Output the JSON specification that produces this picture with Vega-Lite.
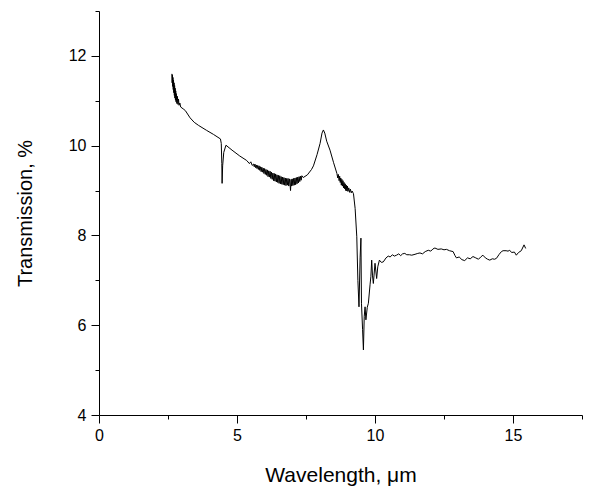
{
  "$schema": "https://vega.github.io/schema/vega-lite/v6.json",
  "autosize": {"type": "none"},
  "padding": {"left": 99, "top": 11, "right": 22, "bottom": 76},
  "width": 483,
  "height": 404,
  "background": "white",
  "config": {"view": {"stroke": null}, "font": "Liberation Sans"},
  "data": {"values": [
    {"w": 2.64, "t": 11.60}, {"w": 2.65, "t": 11.40}, {"w": 2.66, "t": 11.58}, {"w": 2.67, "t": 11.32},
    {"w": 2.68, "t": 11.52}, {"w": 2.69, "t": 11.25}, {"w": 2.70, "t": 11.46}, {"w": 2.71, "t": 11.18},
    {"w": 2.72, "t": 11.40}, {"w": 2.73, "t": 11.12}, {"w": 2.74, "t": 11.34}, {"w": 2.75, "t": 11.06},
    {"w": 2.76, "t": 11.28}, {"w": 2.77, "t": 11.02}, {"w": 2.78, "t": 11.22}, {"w": 2.79, "t": 10.98},
    {"w": 2.80, "t": 11.16}, {"w": 2.82, "t": 10.94}, {"w": 2.84, "t": 11.10}, {"w": 2.86, "t": 10.92},
    {"w": 2.88, "t": 11.04}, {"w": 2.90, "t": 10.90}, {"w": 2.93, "t": 10.95}, {"w": 2.96, "t": 10.86},
    {"w": 3.05, "t": 10.82}, {"w": 3.13, "t": 10.78}, {"w": 3.30, "t": 10.62}, {"w": 3.45, "t": 10.52},
    {"w": 3.61, "t": 10.45}, {"w": 3.90, "t": 10.34}, {"w": 4.15, "t": 10.25}, {"w": 4.40, "t": 10.15},
    {"w": 4.43, "t": 10.05}, {"w": 4.45, "t": 9.60}, {"w": 4.46, "t": 9.16}, {"w": 4.48, "t": 9.55},
    {"w": 4.52, "t": 9.85}, {"w": 4.60, "t": 10.01}, {"w": 4.82, "t": 9.90}, {"w": 5.10, "t": 9.77},
    {"w": 5.35, "t": 9.67}, {"w": 5.45, "t": 9.60}, {"w": 5.50, "t": 9.64}, {"w": 5.55, "t": 9.56},
    {"w": 5.60, "t": 9.59}, {"w": 5.625, "t": 9.53}, {"w": 5.65, "t": 9.59}, {"w": 5.675, "t": 9.51},
    {"w": 5.70, "t": 9.57}, {"w": 5.725, "t": 9.49}, {"w": 5.75, "t": 9.56}, {"w": 5.775, "t": 9.47},
    {"w": 5.80, "t": 9.55}, {"w": 5.825, "t": 9.45}, {"w": 5.85, "t": 9.53}, {"w": 5.875, "t": 9.42},
    {"w": 5.90, "t": 9.52}, {"w": 5.925, "t": 9.41}, {"w": 5.95, "t": 9.50}, {"w": 5.975, "t": 9.38},
    {"w": 6.00, "t": 9.49}, {"w": 6.025, "t": 9.36}, {"w": 6.05, "t": 9.47}, {"w": 6.075, "t": 9.34},
    {"w": 6.10, "t": 9.46}, {"w": 6.125, "t": 9.31}, {"w": 6.15, "t": 9.44}, {"w": 6.175, "t": 9.30},
    {"w": 6.20, "t": 9.43}, {"w": 6.225, "t": 9.27}, {"w": 6.25, "t": 9.41}, {"w": 6.275, "t": 9.25},
    {"w": 6.30, "t": 9.39}, {"w": 6.325, "t": 9.22}, {"w": 6.35, "t": 9.38}, {"w": 6.375, "t": 9.21},
    {"w": 6.40, "t": 9.37}, {"w": 6.425, "t": 9.19}, {"w": 6.45, "t": 9.35}, {"w": 6.475, "t": 9.18},
    {"w": 6.50, "t": 9.34}, {"w": 6.525, "t": 9.16}, {"w": 6.55, "t": 9.33}, {"w": 6.575, "t": 9.15},
    {"w": 6.60, "t": 9.31}, {"w": 6.625, "t": 9.14}, {"w": 6.65, "t": 9.30}, {"w": 6.675, "t": 9.13},
    {"w": 6.70, "t": 9.29}, {"w": 6.725, "t": 9.12}, {"w": 6.75, "t": 9.28}, {"w": 6.775, "t": 9.11},
    {"w": 6.80, "t": 9.27}, {"w": 6.825, "t": 9.12}, {"w": 6.85, "t": 9.27}, {"w": 6.875, "t": 9.10},
    {"w": 6.90, "t": 9.26}, {"w": 6.925, "t": 9.12}, {"w": 6.94, "t": 9.00}, {"w": 6.96, "t": 9.25},
    {"w": 6.975, "t": 9.10}, {"w": 7.00, "t": 9.26}, {"w": 7.025, "t": 9.11}, {"w": 7.05, "t": 9.27},
    {"w": 7.075, "t": 9.12}, {"w": 7.10, "t": 9.28}, {"w": 7.125, "t": 9.13}, {"w": 7.15, "t": 9.29},
    {"w": 7.175, "t": 9.15}, {"w": 7.20, "t": 9.30}, {"w": 7.225, "t": 9.17}, {"w": 7.25, "t": 9.31},
    {"w": 7.275, "t": 9.20}, {"w": 7.30, "t": 9.32}, {"w": 7.325, "t": 9.23}, {"w": 7.35, "t": 9.33},
    {"w": 7.40, "t": 9.29}, {"w": 7.55, "t": 9.35}, {"w": 7.70, "t": 9.47}, {"w": 7.77, "t": 9.55},
    {"w": 7.90, "t": 9.80}, {"w": 8.01, "t": 10.05}, {"w": 8.08, "t": 10.28}, {"w": 8.13, "t": 10.35},
    {"w": 8.18, "t": 10.28}, {"w": 8.25, "t": 10.10}, {"w": 8.37, "t": 9.90}, {"w": 8.50, "t": 9.62},
    {"w": 8.62, "t": 9.38}, {"w": 8.65, "t": 9.28}, {"w": 8.67, "t": 9.36}, {"w": 8.70, "t": 9.22},
    {"w": 8.72, "t": 9.32}, {"w": 8.74, "t": 9.18}, {"w": 8.76, "t": 9.28}, {"w": 8.78, "t": 9.12},
    {"w": 8.80, "t": 9.25}, {"w": 8.82, "t": 9.10}, {"w": 8.84, "t": 9.22}, {"w": 8.86, "t": 9.06},
    {"w": 8.88, "t": 9.18}, {"w": 8.90, "t": 9.04}, {"w": 8.92, "t": 9.15}, {"w": 8.94, "t": 9.00},
    {"w": 8.96, "t": 9.12}, {"w": 8.98, "t": 8.99}, {"w": 9.00, "t": 9.10}, {"w": 9.02, "t": 8.98},
    {"w": 9.05, "t": 9.06}, {"w": 9.08, "t": 8.96}, {"w": 9.11, "t": 9.03}, {"w": 9.14, "t": 8.95},
    {"w": 9.17, "t": 8.99}, {"w": 9.22, "t": 8.93},
    {"w": 9.28, "t": 8.60}, {"w": 9.34, "t": 7.97}, {"w": 9.38, "t": 7.00}, {"w": 9.42, "t": 6.41},
    {"w": 9.46, "t": 7.50}, {"w": 9.49, "t": 7.94}, {"w": 9.51, "t": 6.49}, {"w": 9.55, "t": 5.90},
    {"w": 9.58, "t": 5.45}, {"w": 9.61, "t": 6.20}, {"w": 9.64, "t": 6.41}, {"w": 9.67, "t": 6.12},
    {"w": 9.72, "t": 6.40}, {"w": 9.76, "t": 6.49}, {"w": 9.82, "t": 6.90}, {"w": 9.85, "t": 7.08},
    {"w": 9.88, "t": 7.45}, {"w": 9.91, "t": 7.10}, {"w": 9.94, "t": 6.93}, {"w": 10.00, "t": 7.38},
    {"w": 10.06, "t": 7.04}, {"w": 10.10, "t": 7.30}, {"w": 10.16, "t": 7.45}, {"w": 10.23, "t": 7.40},
    {"w": 10.30, "t": 7.41}, {"w": 10.40, "t": 7.50}, {"w": 10.48, "t": 7.54}, {"w": 10.55, "t": 7.52},
    {"w": 10.63, "t": 7.57}, {"w": 10.70, "t": 7.54}, {"w": 10.78, "t": 7.56}, {"w": 10.86, "t": 7.59},
    {"w": 10.93, "t": 7.55}, {"w": 11.00, "t": 7.59}, {"w": 11.08, "t": 7.60}, {"w": 11.15, "t": 7.57},
    {"w": 11.25, "t": 7.57}, {"w": 11.33, "t": 7.56}, {"w": 11.45, "t": 7.58}, {"w": 11.55, "t": 7.60},
    {"w": 11.63, "t": 7.61}, {"w": 11.72, "t": 7.59}, {"w": 11.82, "t": 7.64}, {"w": 11.93, "t": 7.67},
    {"w": 12.02, "t": 7.65}, {"w": 12.10, "t": 7.70}, {"w": 12.17, "t": 7.72}, {"w": 12.28, "t": 7.69},
    {"w": 12.40, "t": 7.70}, {"w": 12.50, "t": 7.68}, {"w": 12.59, "t": 7.69}, {"w": 12.70, "t": 7.66},
    {"w": 12.83, "t": 7.64}, {"w": 12.90, "t": 7.55}, {"w": 12.95, "t": 7.50}, {"w": 13.05, "t": 7.52},
    {"w": 13.15, "t": 7.46}, {"w": 13.25, "t": 7.44}, {"w": 13.35, "t": 7.50}, {"w": 13.45, "t": 7.48},
    {"w": 13.55, "t": 7.53}, {"w": 13.65, "t": 7.50}, {"w": 13.75, "t": 7.47}, {"w": 13.83, "t": 7.52},
    {"w": 13.91, "t": 7.56}, {"w": 14.00, "t": 7.50}, {"w": 14.08, "t": 7.47}, {"w": 14.16, "t": 7.45},
    {"w": 14.25, "t": 7.48}, {"w": 14.33, "t": 7.47}, {"w": 14.40, "t": 7.49}, {"w": 14.50, "t": 7.58},
    {"w": 14.58, "t": 7.64}, {"w": 14.64, "t": 7.66}, {"w": 14.75, "t": 7.66}, {"w": 14.82, "t": 7.65},
    {"w": 14.88, "t": 7.67}, {"w": 14.95, "t": 7.62}, {"w": 15.05, "t": 7.63}, {"w": 15.12, "t": 7.56},
    {"w": 15.20, "t": 7.62}, {"w": 15.30, "t": 7.66}, {"w": 15.40, "t": 7.79}, {"w": 15.46, "t": 7.71}
  ]},
  "mark": {"type": "line", "color": "black", "strokeWidth": 1},
  "encoding": {
    "x": {
      "field": "w", "type": "quantitative",
      "scale": {"domain": [0, 17.5], "nice": false, "zero": false},
      "axis": {
        "title": "Wavelength, μm",
        "values": [0, 2.5, 5, 7.5, 10, 12.5, 15, 17.5],
        "labelExpr": "datum.value % 5 === 0 ? datum.label : ''",
        "grid": false,
        "domainColor": "black", "domainWidth": 1,
        "tickColor": "black", "tickWidth": 1,
        "tickSize": {"condition": {"test": "datum.value % 5 === 0", "value": 8}, "value": 4},
        "labelFont": "Liberation Sans", "labelFontSize": 16, "labelColor": "black",
        "labelPadding": 4, "labelFlush": false,
        "titleFont": "Liberation Sans", "titleFontSize": 21, "titleFontWeight": "normal",
        "titleColor": "black", "titlePadding": 21
      }
    },
    "y": {
      "field": "t", "type": "quantitative",
      "scale": {"domain": [4, 13], "nice": false, "zero": false},
      "axis": {
        "title": "Transmission, %",
        "values": [4, 5, 6, 7, 8, 9, 10, 11, 12, 13],
        "labelExpr": "datum.value % 2 === 0 ? datum.label : ''",
        "grid": false,
        "domainColor": "black", "domainWidth": 1,
        "tickColor": "black", "tickWidth": 1,
        "tickSize": {"condition": {"test": "datum.value % 2 === 0", "value": 8}, "value": 4},
        "labelFont": "Liberation Sans", "labelFontSize": 16, "labelColor": "black",
        "labelPadding": 5, "labelFlush": false,
        "titleFont": "Liberation Sans", "titleFontSize": 20, "titleFontWeight": "normal",
        "titleColor": "black", "titlePadding": 33
      }
    }
  }
}
